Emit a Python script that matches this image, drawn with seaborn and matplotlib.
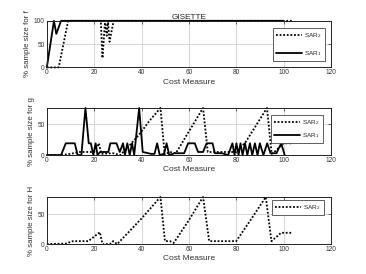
import matplotlib
matplotlib.use("Agg")
import matplotlib.pyplot as plt
import seaborn as sns

# values
cost_ticks = [0, 20, 40, 60, 80, 100, 120]

# panel f
f_sar2_x = [0, 5, 9, 22.8, 23.5, 24.6, 25.3, 25.8, 26.5, 28.2, 104]
f_sar2_y = [0, 0, 100, 100, 20, 100, 68, 100, 55, 100, 100]
f_sar1_x = [0, 3, 4, 6, 100]
f_sar1_y = [0, 100, 72, 100, 100]

# panel g
g_sar2_x = [0, 6, 10, 14, 20, 22, 23, 28, 31, 35, 39, 43.5, 48, 49.8, 52, 54.5,
            66, 68, 72, 78, 80, 84, 93, 95, 97, 100, 104]
g_sar2_y = [0, 0, 2, 5, 5, 19, 2, 3, 0, 16, 33, 56, 76, 1, 5, 3,
            76, 5, 5, 5, 5, 21, 76, 2, 8, 19, 19]
g_sar1_x = [0, 6, 8, 11.8, 13, 14.6, 16.3, 17.7, 18.6, 19.6, 20.6, 21.4, 22.5,
            26, 26.8, 29.4, 30.8, 32.2, 33, 34, 35, 36, 36.9, 39, 40.5, 44,
            45.5, 46.6, 47.7, 49.5, 50.6, 51.7, 54, 58, 59.7, 62.5, 63.9, 66,
            67.5, 70, 71, 74, 76.6, 78.4, 79.3, 80.1, 81, 81.8, 82.7, 83.7,
            84.7, 85.8, 86.8, 87.9, 89, 90, 91.5, 93.1, 94.5, 97, 99, 100.5]
g_sar1_y = [0, 0, 19, 19, 0, 0, 76, 19, 19, 0, 19, 0, 5,
            5, 19, 19, 5, 19, 0, 19, 0, 19, 0, 76, 5, 2,
            2, 19, 0, 2, 19, 0, 3, 3, 19, 19, 5, 5,
            19, 19, 3, 3, 0, 19, 0, 19, 0, 19, 0, 19,
            0, 19, 0, 19, 0, 19, 0, 19, 3, 3, 19, 0]

# panel H
h_sar2_x = [0, 8, 11, 17.5, 22.4, 23.5, 26.6, 28, 29.7, 35, 40, 48, 49.9, 52,
            53.6, 60, 66, 68.6, 80, 86, 92.5, 94.9, 99, 104]
h_sar2_y = [0, 1, 5, 5, 20, 0, 0, 5, 0, 22, 43, 79, 5, 5,
            2, 40, 79, 5, 5, 40, 79, 5, 19, 19]

sns.set_style("white")
plt.rcParams["font.family"] = ["Liberation Sans", "DejaVu Sans"]
plt.rcParams["mathtext.fontset"] = "custom"
plt.rcParams["mathtext.rm"] = "Liberation Sans"

fig = plt.figure(figsize=(3.66, 2.74), dpi=100)
left, width = 0.128, 0.776
ax_f = fig.add_axes([left, 0.754, width, 0.170])
ax_g = fig.add_axes([left, 0.434, width, 0.172])
ax_h = fig.add_axes([left, 0.109, width, 0.172])

dot = (0, (1, 1))
lw = 1.3
kw = dict(color="k", lw=lw, estimator=None, sort=False, clip_on=False)

sns.lineplot(x=f_sar2_x, y=f_sar2_y, ax=ax_f, linestyle=dot, label="SAR$_2$", **kw)
sns.lineplot(x=f_sar1_x, y=f_sar1_y, ax=ax_f, label="SAR$_1$", **kw)
sns.lineplot(x=g_sar2_x, y=g_sar2_y, ax=ax_g, linestyle=dot, label="SAR$_2$", **kw)
sns.lineplot(x=g_sar1_x, y=g_sar1_y, ax=ax_g, label="SAR$_1$", **kw)
sns.lineplot(x=h_sar2_x, y=h_sar2_y, ax=ax_h, linestyle=dot, label="SAR$_2$", **kw)

ax_f.set_ylim(0, 100)
ax_f.set_yticks([0, 50, 100])
ax_g.set_ylim(0, max(g_sar1_y + g_sar2_y))
ax_g.set_yticks([0, 50])
ax_h.set_ylim(0, max(h_sar2_y))
ax_h.set_yticks([0, 50])

ax_f.set_title("GISETTE", fontsize=5.9, pad=1.5, color="#222222")

ylabels = ["% sample size for f", "% sample size for g", "% sample size for H"]
leg_anchor = [(0.979, 0.84), (0.972, 0.85), (0.975, 0.935)]
leg_space = [1.4, 0.6, 0.6]
for ax, lab, anc, sp in zip([ax_f, ax_g, ax_h], ylabels, leg_anchor, leg_space):
    ax.set_xlim(0, 120)
    ax.set_xticks(cost_ticks)
    ax.set_xlabel("Cost Measure", fontsize=6, labelpad=1.5, color="#333333")
    ax.set_ylabel(lab, fontsize=5.7, labelpad=2, color="#333333")
    ax.tick_params(labelsize=4.7, colors="#333333", direction="in", length=2,
                   width=0.5, pad=1.5, top=True, right=True)
    ax.grid(True, color="#cfcfcf", lw=0.6)
    for s in ax.spines.values():
        s.set_color("#222222")
        s.set_linewidth(0.7)
    leg = ax.legend(loc="upper right", bbox_to_anchor=anc, fontsize=4.6,
                    handlelength=4.0, handletextpad=0.4, labelspacing=sp,
                    borderpad=0.5, borderaxespad=0, fancybox=False,
                    framealpha=1, edgecolor="#444444")
    leg.get_frame().set_linewidth(0.6)

fig.savefig("out.png", dpi=100)
